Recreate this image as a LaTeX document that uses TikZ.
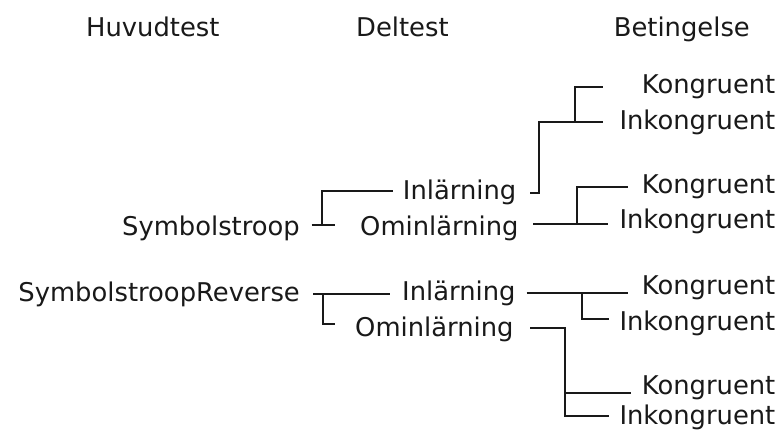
\documentclass[tikz,border=0pt]{standalone}
\usepackage{fontspec}
\setmainfont{DejaVu Sans}
\begin{document}
\begin{tikzpicture}[x=1pt,y=-1pt,
  lbl/.style={inner sep=0pt, font=\fontsize{25.8}{30}\selectfont, text=black!90},
  conn/.style={line width=2pt, draw=black!90}]
\fill[white] (0,0) rectangle (783,430);
\useasboundingbox (0,0) rectangle (783,430);

% headers
\node[lbl, anchor=base west] (h1) at (86,36.7) {Huvudtest};
\node[lbl, anchor=base west] (h2) at (356,36.7) {Deltest};
\node[lbl, anchor=base east] (h3) at (750,36.7) {Betingelse};

% main tests
\node[lbl, anchor=base east] (s1) at (300,235) {Symbolstroop};
\node[lbl, anchor=base east] (s2) at (300,301.7) {SymbolstroopReverse};

% subtests
\node[lbl, anchor=base west] (d1) at (402.7,199.3) {Inlärning};
\node[lbl, anchor=base west] (d2) at (360,235) {Ominlärning};
\node[lbl, anchor=base west] (d3) at (402,300) {Inlärning};
\node[lbl, anchor=base west] (d4) at (355,336.7) {Ominlärning};

% conditions
\node[lbl, anchor=base east] (k1) at (775.5,94) {Kongruent};
\node[lbl, anchor=base east] (i1) at (775.5,130) {Inkongruent};
\node[lbl, anchor=base east] (k2) at (775.5,194) {Kongruent};
\node[lbl, anchor=base east] (i2) at (775.5,228.3) {Inkongruent};
\node[lbl, anchor=base east] (k3) at (775.5,294) {Kongruent};
\node[lbl, anchor=base east] (i3) at (775.5,330) {Inkongruent};
\node[lbl, anchor=base east] (k4) at (775.5,394) {Kongruent};
\node[lbl, anchor=base east] (i4) at (775.5,424) {Inkongruent};

% junction points
\coordinate (s1o) at (311.7,225.3);
\coordinate (s1j) at (321.7,225.3);
\coordinate (s1e) at (335,225.3);
\coordinate (d1i) at (393.3,191.2);

\coordinate (s2o) at (313.3,294);
\coordinate (s2j) at (322.7,294);
\coordinate (d3i) at (390,294);
\coordinate (d4i) at (335,324);

\coordinate (d1o) at (530,192.7);
\coordinate (d1j) at (539.3,192.7);
\coordinate (i1i) at (603.3,122);
\coordinate (d1k) at (575,122);
\coordinate (k1i) at (603.3,87);

\coordinate (d2o) at (533.3,224.3);
\coordinate (d2j) at (576.7,224.3);
\coordinate (i2i) at (608.3,224.3);
\coordinate (k2i) at (627.7,186.7);

\coordinate (d3o) at (526.7,293.3);
\coordinate (d3j) at (581.7,293.3);
\coordinate (k3i) at (628.3,293.3);
\coordinate (i3i) at (609.3,318.8);

\coordinate (d4o) at (530,328.3);
\coordinate (d4j) at (565,328.3);
\coordinate (i4i) at (609.3,416);
\coordinate (k4i) at (630.7,393);

% connectors: Symbolstroop
\draw[conn] (s1o) -- (s1e);
\draw[conn] (s1j) |- (d1i);
% SymbolstroopReverse
\draw[conn] (s2o) -- (d3i);
\draw[conn] (s2j) |- (d4i);
% Inlärning (1)
\draw[conn] (d1o) -- (d1j) |- (i1i);
\draw[conn] (d1k) |- (k1i);
% Ominlärning (1)
\draw[conn] (d2o) -- (i2i);
\draw[conn] (d2j) |- (k2i);
% Inlärning (2)
\draw[conn] (d3o) -- (k3i);
\draw[conn] (d3j) |- (i3i);
% Ominlärning (2)
\draw[conn] (d4o) -- (d4j) |- (i4i);
\draw[conn] (d4j |- k4i) -- (k4i);
\end{tikzpicture}
\end{document}
